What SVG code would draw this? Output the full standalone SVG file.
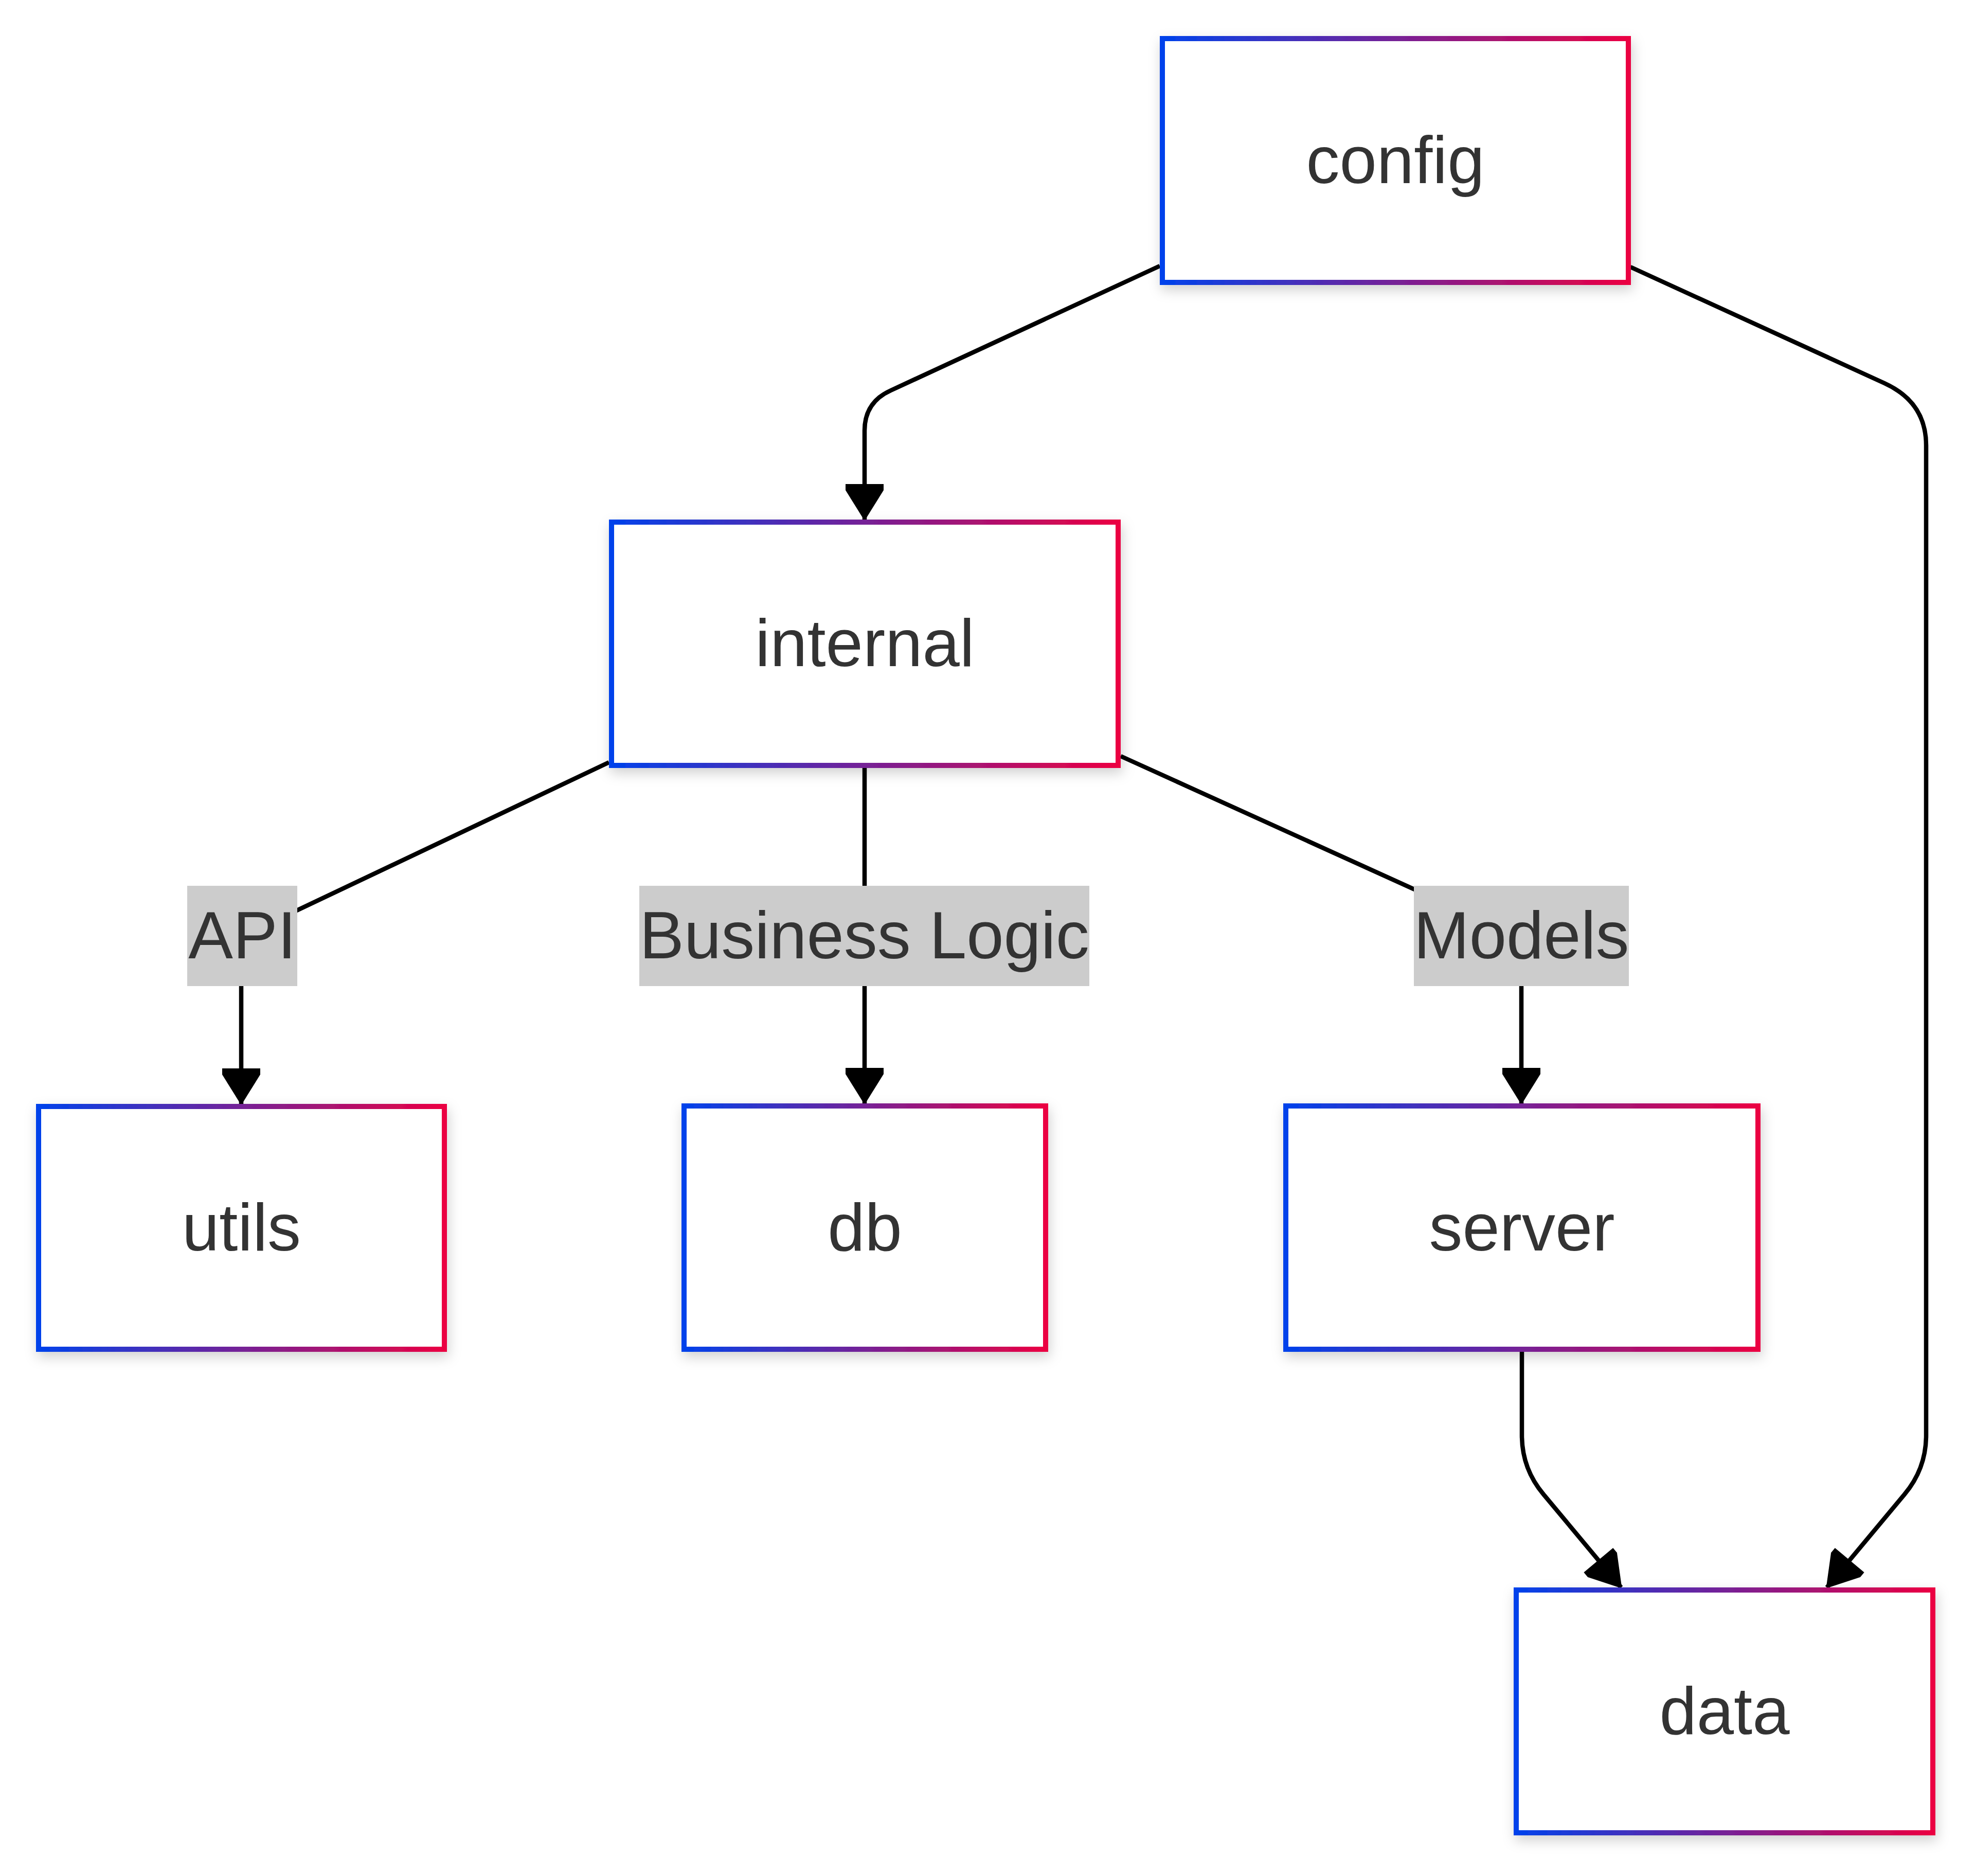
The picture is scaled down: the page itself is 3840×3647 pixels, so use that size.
<svg xmlns="http://www.w3.org/2000/svg" width="3840" height="3647" viewBox="0 0 3840 3647">
<style>
.node rect{fill:#ffffff;stroke:url(#grad);stroke-width:10;filter:url(#shadow)}
.node text,.elabel text{font-family:"Liberation Sans",Arial,Helvetica,sans-serif;font-size:130px;fill:#333333;text-anchor:middle}
.elabel rect{fill:#cccccc}
.edge{fill:none;stroke:#000000;stroke-width:8.5;marker-end:url(#arrow)}
</style>
<defs>
<linearGradient id="grad" x1="0" y1="0" x2="1" y2="0">
<stop offset="0" stop-color="#0042eb"/>
<stop offset="1" stop-color="#eb0042"/>
</linearGradient>
<filter id="shadow" x="-20%" y="-20%" width="140%" height="150%">
<feDropShadow dx="3" dy="10" stdDeviation="12" flood-color="#000000" flood-opacity="0.18"/>
</filter>
<marker id="arrow" markerUnits="userSpaceOnUse" viewBox="-72 -40 74 80" refX="0" refY="0" markerWidth="74" markerHeight="80" orient="auto">
<path d="M-69,-37 L-57,-37 L0,-1.5 L0,1.5 L-57,37 L-69,37 Z" fill="#000000"/>
</marker>
</defs>
<rect x="0" y="0" width="3840" height="3647" fill="#ffffff"/>
<g id="connectors">
<path class="edge" d="M2255,517 L1732,759 Q1681,782 1681,837 L1681,1010"/>
<path class="edge" d="M3170,519 L3664,745 Q3745,782 3745,866 L3745,2790 Q3745,2855 3703,2905 L3552,3086"/>
<path class="edge" d="M1184,1482 L520,1797 Q469,1821 469,1875 L469,2146"/>
<path class="edge" d="M1681,1493 L1681,2145"/>
<path class="edge" d="M2179,1470 L2900,1797 Q2958,1823 2958,1875 L2958,2145"/>
<path class="edge" d="M2959,2628 L2959,2790 Q2959,2855 3001,2905 L3152,3086"/>
</g>
<g id="edge-labels">
<g class="elabel" id="label-api"><rect x="364" y="1722" width="214" height="195"/><text x="471" y="1863">API</text></g>
<g class="elabel" id="label-business-logic"><rect x="1243" y="1722" width="875" height="195"/><text x="1680.5" y="1863">Business Logic</text></g>
<g class="elabel" id="label-models"><rect x="2749" y="1722" width="418" height="195"/><text x="2958" y="1863">Models</text></g>
</g>
<g id="node-config" class="node"><rect x="2260" y="75" width="906" height="474"/><text x="2713" y="356">config</text></g>
<g id="node-internal" class="node"><rect x="1189" y="1015" width="985" height="473"/><text x="1681.5" y="1295">internal</text></g>
<g id="node-utils" class="node"><rect x="75" y="2151" width="789" height="472"/><text x="469.5" y="2431">utils</text></g>
<g id="node-db" class="node"><rect x="1330" y="2150" width="703" height="473"/><text x="1681.5" y="2431">db</text></g>
<g id="node-server" class="node"><rect x="2500" y="2150" width="918" height="473"/><text x="2959" y="2431">server</text></g>
<g id="node-data" class="node"><rect x="2948" y="3091" width="810" height="472"/><text x="3353" y="3371">data</text></g>
</svg>
